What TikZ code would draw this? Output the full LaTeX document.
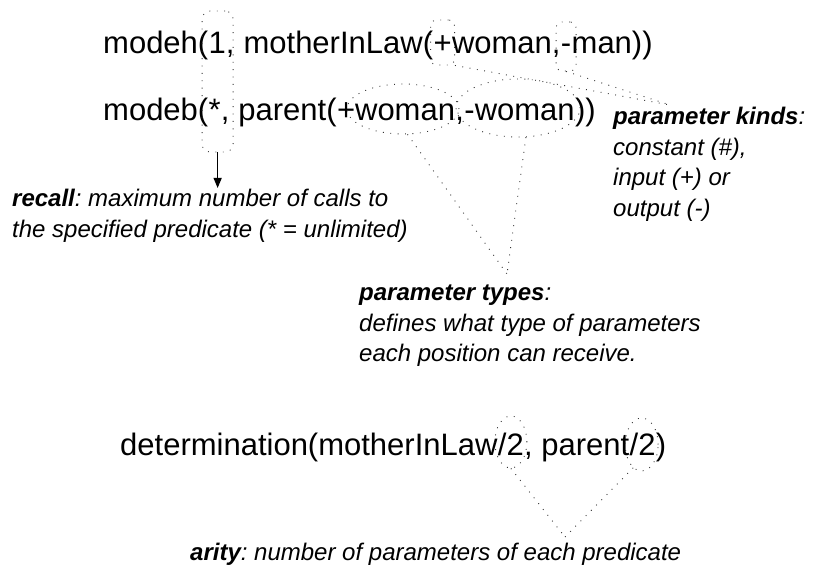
\documentclass[tikz,border=0pt]{standalone}
\usepackage{fontspec}
\setmainfont{Liberation Sans}
\usetikzlibrary{arrows.meta,calc,shapes.geometric}
\frenchspacing
\begin{document}
\frenchspacing
\begin{tikzpicture}[x=1pt,y=-1pt,
  main/.style={inner sep=0pt, anchor=base west, font=\fontsize{31}{37}\selectfont},
  note/.style={inner sep=0pt, align=left, font=\fontsize{24}{30.5}\selectfont\itshape},
  dots/.style={draw=black!80, line width=0.9pt, dash pattern=on 0.9pt off 6.5pt},
  callbox/.style={dots, inner sep=0pt, rounded corners=6pt},
  callell/.style={dots, inner sep=0pt, ellipse}]
\useasboundingbox (0,0) rectangle (815,572);

% line 1
\node[main] (h1) at (103,54) {modeh(};
\node[main] (h2) at (h1.base east) {1,};
\node[main] (h3) at (h2.base east) {\ motherInLaw(};
\node[main] (h4) at (h3.base east) {+};
\node[main] (h5) at (h4.base east) {woman,};
\node[main] (h6) at (h5.base east) {-};
\node[main] (h7) at (h6.base east) {man))};

% line 2
\node[main] (b1) at (103,121) {modeb(};
\node[main] (b2) at (b1.base east) {*,};
\node[main] (b3) at (b2.base east) {\ parent(};
\node[main] (b4) at (b3.base east) {+woman};
\node[main] (b5) at (b4.base east) {,};
\node[main] (b6) at (b5.base east) {-woman};
\node[main] (b7) at (b6.base east) {))};

% determination line
\node[main] (d1) at (120,455) {determination(motherInLaw};
\node[main] (d2) at (d1.base east) {/2};
\node[main] (d3) at (d2.base east) {,\ parent};
\node[main] (d4) at (d3.base east) {/2};
\node[main] (d5) at (d4.base east) {)};

% labels
\node[note, anchor=north west] (recall) at (12,189)
  {\textbf{recall}: maximum number of calls to\\the specified predicate (* = unlimited)};
\node[note, anchor=north west] (kinds) at (613,107)
  {\textbf{parameter kinds}:\\constant (\#),\\input (+) or\\output (-)};
\node[note, anchor=north west] (types) at (359,285)
  {\textbf{parameter types}:\\defines what type of parameters\\each position can receive.};
\node[note, anchor=base west] (arity) at (190,560)
  {\textbf{arity}: number of parameters of each predicate};

% recall callout
\node[callbox, rounded corners=8pt, minimum width=31pt, minimum height=141pt] (rb) at ($(h2.base)+(-4,27.5)$) {};
\draw[-{Triangle[length=10pt,width=8pt]}, line width=1.2pt, shorten >=1pt] (rb.south) -- (rb.south |- recall.north);

% parameter kinds callout
\node[callbox, minimum width=24pt, minimum height=45pt] (kp) at ($(h4.base)+(0,-11.5)$) {};
\node[callbox, minimum width=20pt, minimum height=49pt] (km) at ($(h6.base)+(0,-7.5)$) {};
\coordinate (kindtip) at (670,105);
\draw[dots] (kp.south east) -- (kindtip);
\draw[dots] (km.south) -- (kindtip);

% parameter types callout
\node[callell, minimum width=112pt, minimum height=50pt] (ta) at ($(b4.base)+(7,-12)$) {};
\node[callell, minimum width=124pt, minimum height=58pt] (tb) at ($(b6.base)+(-1.5,-13)$) {};
\coordinate (typetip) at (507,274);
\draw[dots] (ta.-80) -- (typetip);
\draw[dots] (tb.-75) -- (typetip);

% arity callout
\node[callell, minimum width=32pt, minimum height=52pt] (ae1) at ($(d2.base)+(0,-13)$) {};
\node[callell, minimum width=33pt, minimum height=53pt] (ae2) at ($(d4.base)+(-1,-10.5)$) {};
\coordinate (aritytip) at (565,537);
\draw[dots] (ae1.south) -- (aritytip);
\draw[dots] (ae2.-110) -- (aritytip);
\end{tikzpicture}
\end{document}
